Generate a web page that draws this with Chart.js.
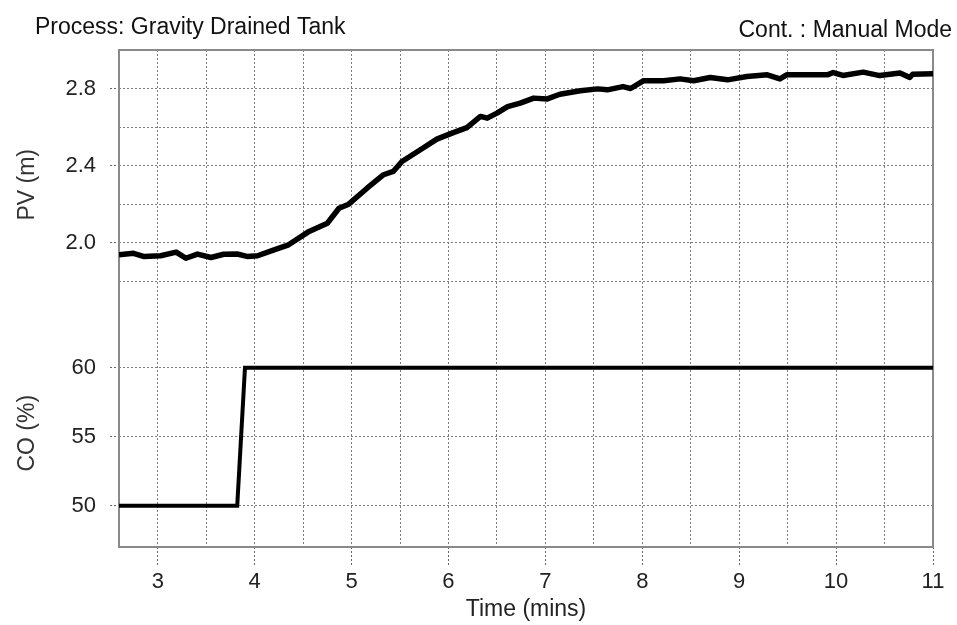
<!DOCTYPE html>
<html>
<head>
<meta charset="utf-8">
<script src="https://cdn.jsdelivr.net/npm/chart.js@4"></script>
<style>
  body { margin: 0; background: #fff; }
</style>
</head>
<body>
<canvas id="tankChart" width="957" height="625"></canvas>
<script>
// PV (tank level, m)
const pvTime = [2.6, 2.75, 2.86, 3.03, 3.19, 3.29, 3.41, 3.55, 3.68, 3.82, 3.93, 4.03, 4.20, 4.35, 4.55, 4.75, 4.87, 4.97, 5.16, 5.33,
    5.43, 5.52, 5.71, 5.88, 6.05, 6.19, 6.33, 6.40, 6.50, 6.61, 6.74, 6.88, 7.02, 7.15, 7.36, 7.54, 7.64, 7.80, 7.88, 8.01,
    8.22, 8.39, 8.53, 8.70, 8.88, 9.08, 9.29, 9.42, 9.49, 9.70, 9.91, 9.97, 10.07, 10.28, 10.45, 10.66, 10.76, 10.79, 11.0];
const pvLevel = [1.936, 1.944, 1.927, 1.931, 1.95, 1.918, 1.94, 1.922, 1.939, 1.94, 1.927, 1.931, 1.962, 1.988, 2.054, 2.10, 2.178, 2.199, 2.282, 2.352,
    2.369, 2.421, 2.482, 2.537, 2.571, 2.597, 2.655, 2.646, 2.672, 2.706, 2.724, 2.75, 2.746, 2.77, 2.788, 2.798, 2.793, 2.81, 2.80, 2.84,
    2.84, 2.85, 2.84, 2.857, 2.845, 2.862, 2.871, 2.85, 2.871, 2.871, 2.871, 2.883, 2.868, 2.885, 2.867, 2.88, 2.857, 2.874, 2.876];

// CO (controller output, %) step
const coTime = [2.6, 3.82, 3.90, 11];
const coValue = [50, 50, 60, 60];

// ticks
const xTicks = [3, 3.5, 4, 4.5, 5, 5.5, 6, 6.5, 7, 7.5, 8, 8.5, 9, 9.5, 10, 10.5, 11];
const xLabels = [3, 4, 5, 6, 7, 8, 9, 10, 11];
const pvTicks = [1.8, 2.0, 2.2, 2.4, 2.6, 2.8];
const pvLabels = [2.0, 2.4, 2.8];
const coTicks = [50, 55, 60];

const gridColor = '#7c7c7c';
const tickFont = { family: 'Liberation Sans, Arial, sans-serif', size: 22 };
const titleFont = { family: 'Liberation Sans, Arial, sans-serif', size: 23 };

const frame = {
    id: 'frame',
    beforeDatasetsDraw(chart) {
        const a = chart.chartArea, ctx = chart.ctx;
        ctx.save();
        ctx.strokeStyle = '#8a8a8a';
        ctx.lineWidth = 2;
        ctx.strokeRect(a.left, a.top, a.right - a.left, a.bottom - a.top);
        ctx.restore();
    },
    afterDraw(chart) {
        const ctx = chart.ctx;
        ctx.save();
        ctx.fillStyle = '#111';
        ctx.font = '23px "Liberation Sans", Arial, sans-serif';
        ctx.textBaseline = 'alphabetic';
        ctx.textAlign = 'left';
        ctx.fillText('Process: Gravity Drained Tank', 35, 34);
        ctx.textAlign = 'right';
        ctx.fillText('Cont. : Manual Mode', 952, 37);
        ctx.restore();
    }
};

const dotted = (shown) => ({
    color: gridColor,
    tickBorderDash: [2, 2],
    tickColor: (c) => shown.includes(c.tick.value) ? '#666' : 'transparent',
    tickWidth: 1,
    lineWidth: 1
});
// grid lines take their dash from border.dash in v4
const dottedBorder = { display: false, dash: [2, 2] };

new Chart(document.getElementById('tankChart'), {
    type: 'line',
    data: {
        datasets: [{
            label: 'PV',
            data: pvTime.map((t, i) => ({ x: t, y: pvLevel[i] })),
            xAxisID: 'x',
            yAxisID: 'yPV',
            borderColor: '#000',
            borderWidth: 5.5,
            borderJoinStyle: 'round',
            pointRadius: 0,
            tension: 0
        }, {
            label: 'CO',
            data: coTime.map((t, i) => ({ x: t, y: coValue[i] })),
            xAxisID: 'x',
            yAxisID: 'yCO',
            borderColor: '#000',
            borderWidth: 4,
            pointRadius: 0,
            tension: 0
        }]
    },
    options: {
        responsive: false,
        devicePixelRatio: 1,
        animation: false,
        layout: { padding: { top: 50, right: 24, left: 0, bottom: 0 } },
        plugins: { legend: { display: false }, tooltip: { enabled: false } },
        scales: {
            x: {
                type: 'linear',
                min: 2.6,
                max: 11,
                afterBuildTicks: (s) => { s.ticks = xTicks.map(v => ({ value: v })); },
                afterFit: (s) => { s.height = 78; },
                border: dottedBorder,
                grid: Object.assign(dotted(xLabels), { tickLength: 18 }),
                ticks: {
                    font: tickFont,
                    color: '#222',
                    padding: 4,
                    maxRotation: 0,
                    autoSkip: false,
                    callback: (v) => xLabels.includes(v) ? String(v) : ''
                },
                title: { display: true, text: 'Time (mins)', font: titleFont, color: '#222', padding: { top: 0, bottom: 2 } }
            },
            yCO: {
                type: 'linear',
                position: 'left',
                stack: 'panels',
                stackWeight: 227.5,
                min: 47,
                max: 63.5,
                afterBuildTicks: (s) => { s.ticks = coTicks.map(v => ({ value: v })); },
                afterFit: (s) => { s.width = 119; },
                border: dottedBorder,
                grid: Object.assign(dotted(coTicks), { tickLength: 9 }),
                ticks: { font: tickFont, color: '#222', padding: 14 },
                title: { display: true, text: 'CO (%)', font: titleFont, color: '#333', padding: { top: 14, bottom: 0 } }
            },
            yPV: {
                type: 'linear',
                position: 'left',
                stack: 'panels',
                stackWeight: 269.5,
                min: 1.6,
                max: 3.0,
                afterBuildTicks: (s) => { s.ticks = pvTicks.map(v => ({ value: v })); },
                afterFit: (s) => { s.width = 119; },
                border: dottedBorder,
                grid: Object.assign(dotted(pvLabels), { tickLength: 9 }),
                ticks: {
                    font: tickFont,
                    color: '#222',
                    padding: 14,
                    callback: (v) => pvLabels.includes(v) ? v.toFixed(1) : ''
                },
                title: { display: true, text: 'PV (m)', font: titleFont, color: '#333', padding: { top: 14, bottom: 0 } }
            }
        }
    },
    plugins: [frame]
});
</script>
</body>
</html>
